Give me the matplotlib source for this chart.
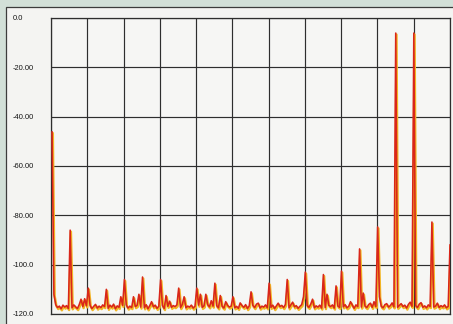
import numpy as np
import matplotlib
matplotlib.use("Agg")
import matplotlib.pyplot as plt
from matplotlib.patches import Rectangle
from matplotlib.transforms import offset_copy

# Frequency bins (kHz), 0.1 kHz apart, 0 .. 22 kHz
freq_khz = np.round(np.arange(0, 221) * 0.1, 1)

# Residual noise floor per bin (dB), one row per kHz
noise_floor_db = [
    -116.5, -112.0, -116.2, -117.4, -116.8, -117.9, -116.4, -117.2, -116.6, -117.8,
    -116.9, -117.5, -116.3, -117.1, -117.8, -116.2, -114.0, -117.0, -113.8, -116.7,
    -117.3, -116.5, -117.8, -116.9, -116.1, -117.6, -116.8, -117.4, -116.3, -117.0,
    -116.6, -117.7, -116.4, -117.2, -116.0, -117.9, -116.7, -117.3, -114.2, -116.5,
    -117.1, -116.3, -117.6, -116.8, -117.4, -116.2, -117.0, -116.5, -114.5, -117.2,
    -116.8, -117.5, -116.2, -117.9, -116.6, -115.0, -117.1, -116.4, -117.7, -116.9,
    -117.2, -116.5, -117.8, -113.8, -116.9, -114.8, -117.3, -116.6, -117.0, -116.3,
    -116.7, -117.4, -116.1, -114.6, -117.5, -116.8, -117.2, -116.4, -117.6, -116.9,
    -117.0, -116.4, -113.5, -117.3, -116.7, -117.8, -116.2, -117.1, -114.6, -116.8,
    -117.3, -116.6, -117.5, -114.0, -116.9, -117.6, -115.0, -116.5, -117.2, -116.8,
    -116.4, -117.5, -116.9, -117.7, -115.5, -116.6, -117.3, -116.2, -117.8, -116.7,
    -117.1, -116.5, -117.4, -116.0, -115.6, -117.6, -116.8, -117.2, -116.3, -117.5,
    -116.9, -117.3, -116.4, -117.8, -116.7, -115.6, -117.0, -116.5, -117.4, -116.1,
    -116.8, -117.5, -116.3, -115.2, -117.1, -116.6, -117.7, -116.9, -116.2, -114.4,
    -117.0, -116.6, -117.3, -116.0, -115.2, -117.5, -116.7, -117.2, -116.4, -117.6,
    -116.9, -117.4, -113.6, -116.5, -117.0, -116.3, -117.6, -110.0, -116.8, -117.3,
    -116.6, -117.1, -116.2, -117.5, -116.9, -115.4, -116.4, -117.7, -116.3, -117.0,
    -116.5, -117.2, -113.4, -116.8, -117.4, -116.2, -115.6, -117.3, -116.7, -117.0,
    -116.4, -113.0, -116.9, -117.5, -116.2, -115.8, -117.2, -116.6, -115.5, -117.1,
    -116.8, -117.3, -116.5, -115.8, -117.0, -116.4, -117.6, -116.1, -115.2, -116.9,
    -117.2, -116.6, -117.4, -116.0, -115.4, -117.3, -116.7, -117.5, -116.3, -117.0,
    -116.5, -117.2, -116.8, -115.6, -117.4, -116.6, -117.1, -116.3, -117.5, -116.9,
    -116.7,
]

# Discrete spectral lines: test tones (19 + 20 kHz), IMD products, DC
peak_khz = [0.0, 1.0, 2.0, 3.0, 3.8, 4.0, 4.5, 4.8, 5.0, 6.0, 6.3, 7.0, 7.3,
            8.0, 8.2, 8.5, 9.0, 9.3, 10.0, 11.0, 12.0, 13.0, 13.9, 14.0, 14.4,
            15.0, 15.2, 15.7, 16.0, 16.5, 17.0, 17.2, 17.8, 18.0, 19.0, 20.0,
            21.0, 22.0]
peak_db = [-46.2, -86.0, -109.5, -110.0, -113.0, -106.0, -113.0, -112.0, -105.0,
           -106.0, -112.5, -109.5, -113.0, -109.5, -112.0, -112.0, -107.5, -112.5,
           -113.0, -111.0, -107.5, -106.0, -113.0, -103.0, -114.0, -104.0, -112.0,
           -108.6, -102.6, -115.0, -93.6, -111.5, -115.0, -84.7, -6.1, -6.1,
           -82.7, -92.0]

ytick_vals = [0, -20, -40, -60, -80, -100, -120]
ytick_labels = ["0.0", "-20.00", "-40.00", "-60.00", "-80.00", "-100.0", "-120.0"]

# Combine floor and lines into one spectrum
level_db = np.array(noise_floor_db, dtype=float)
bins = np.rint(np.array(peak_khz) * 10).astype(int)
level_db[bins] = np.maximum(level_db[bins], np.array(peak_db))

W, H = 453, 324
fig = plt.figure(figsize=(W / 100, H / 100), dpi=100)
fig.patch.set_facecolor("#d2e0d8")

# Paper panel with its frame line on the left and top
panel = Rectangle((5.5 / W, -0.2), 2.0, 1.2 - 6.5 / H, transform=fig.transFigure,
                  facecolor="#f4f4f2", edgecolor="#3c3c3c", linewidth=0.9,
                  zorder=-1)
fig.patches.append(panel)

ax = fig.add_axes([51 / W, 1 - 314 / H, 399 / W, 296 / H])
ax.set_facecolor("#f6f6f4")

x_lo, x_hi = -0.06, 22.0
ax.set_xlim(x_lo, x_hi)
ax.set_ylim(-120, 0)

ax.set_xticks(np.linspace(x_lo, x_hi, 12))
ax.set_xticklabels([])
ax.set_yticks(ytick_vals)
ax.set_yticklabels(ytick_labels, fontsize=5.4, family="Liberation Sans",
                   color="#141414", ha="left")
ax.tick_params(axis="both", length=0)
ax.tick_params(axis="y", pad=27.6)

ax.grid(True, color="#2e2e2e", linewidth=0.85)
ax.set_axisbelow(True)
for s in ax.spines.values():
    s.set_color("#2e2e2e")
    s.set_linewidth(0.9)

# Second trace, slightly offset under the first
shifted = offset_copy(ax.transData, fig=fig, x=0.55, y=-1.1, units="points")
ax.plot(freq_khz, level_db, color="#f2b624", linewidth=1.7,
        transform=shifted, solid_joinstyle="round", zorder=3)
ax.plot(freq_khz, level_db, color="#d9261a", linewidth=1.15,
        solid_joinstyle="round", zorder=4)

fig.savefig("out.png", dpi=100, facecolor=fig.get_facecolor())
